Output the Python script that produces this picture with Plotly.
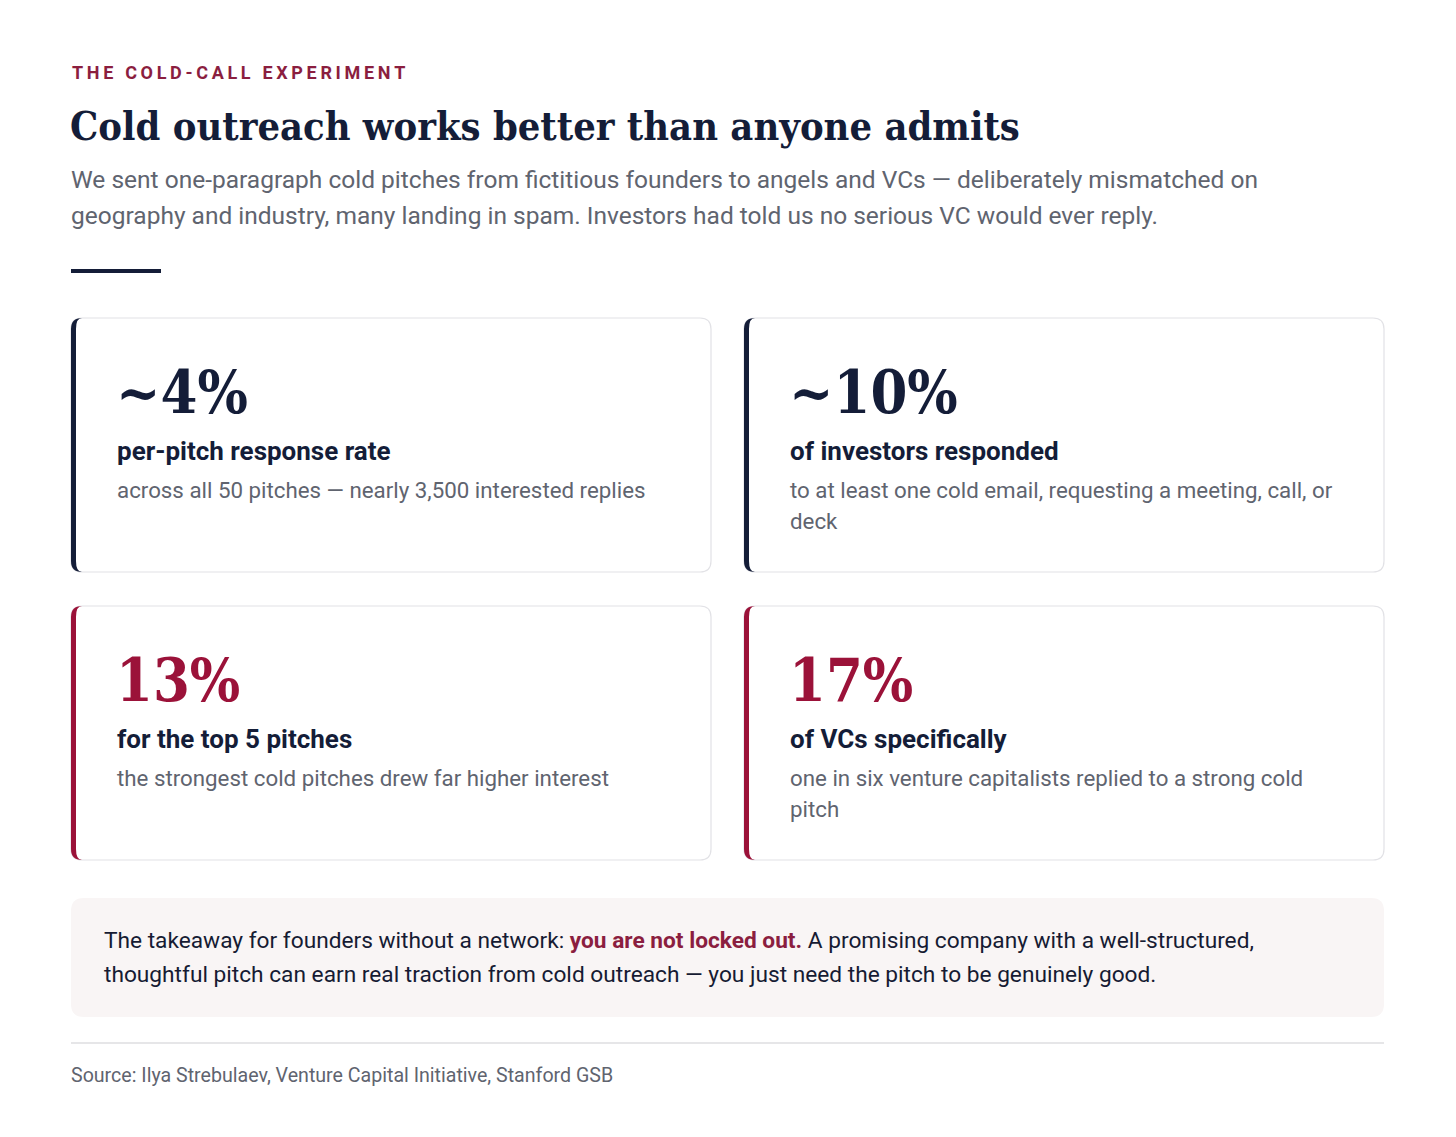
import plotly.graph_objects as go

W, H = 1456, 1137
PAGE_OFFSET = 8  # default body margin of the html page

NAVY = "#141d38"
CRIMSON = "#9b1239"
EYEBROW = "#8b1e3f"
GRAY = "#60646f"
BORDER = "#e2e2e6"

# Text content
eyebrow = "THE COLD-CALL EXPERIMENT"
title = "Cold outreach works better than anyone admits"
subtitle_lines = [
    "We sent one-paragraph cold pitches from fictitious founders to angels and VCs \u2014 deliberately mismatched on",
    "geography and industry, many landing in spam. Investors had told us no serious VC would ever reply.",
]

# Stat cards (row-major: top-left, top-right, bottom-left, bottom-right)
card_values = ["~4%", "~10%", "13%", "17%"]
card_labels = ["per-pitch response rate", "of investors responded",
               "for the top 5 pitches", "of VCs specifically"]
card_descs = [
    ["across all 50 pitches \u2014 nearly 3,500 interested replies"],
    ["to at least one cold email, requesting a meeting, call, or", "deck"],
    ["the strongest cold pitches drew far higher interest"],
    ["one in six venture capitalists replied to a strong cold", "pitch"],
]
card_accent = ["navy", "navy", "crimson", "crimson"]

takeaway_lines = [
    "The takeaway for founders without a network: <b><span style='color:#8b1e3f'>you are not locked out.</span></b>"
    " A promising company with a well-structured,",
    "thoughtful pitch can earn real traction from cold outreach \u2014 you just need the pitch to be genuinely good.",
]
source = "Source: Ilya Strebulaev, Venture Capital Initiative, Stanford GSB"

SERIF = "DejaVu Serif Condensed, DejaVu Serif, serif"
SANS = "Roboto, Noto Sans, sans-serif"


def rounded_path(x0, y0, x1, y1, r):
    return (f"M {x0+r},{y0} L {x1-r},{y0} Q {x1},{y0} {x1},{y0+r} "
            f"L {x1},{y1-r} Q {x1},{y1} {x1-r},{y1} L {x0+r},{y1} "
            f"Q {x0},{y1} {x0},{y1-r} L {x0},{y0+r} Q {x0},{y0} {x0+r},{y0} Z")


def accent_path(x0, y0, y1, r, w):
    return (f"M {x0+r},{y0} Q {x0},{y0} {x0},{y0+r} L {x0},{y1-r} "
            f"Q {x0},{y1} {x0+r},{y1} Q {x0+w},{y1} {x0+w},{y1-r} "
            f"L {x0+w},{y0+r} Q {x0+w},{y0} {x0+r},{y0} Z")


fig = go.Figure()
shapes = []
annotations = []


def text(x, y, s, size, color, family=SANS, weight="normal"):
    annotations.append(dict(
        x=x, y=y, xref="x", yref="y", text=s, showarrow=False,
        xanchor="left", yanchor="middle", align="left",
        font=dict(family=family, size=size, color=color, weight=weight),
    ))


# Header
text(70, 72, "\u2009".join(eyebrow), 18, EYEBROW, weight="bold")
text(68, 126, title, 39.5, NAVY, family=SERIF, weight="bold")
for i, line in enumerate(subtitle_lines):
    text(69, 179 + i * 36, line, 24.5, GRAY)
shapes.append(dict(type="line", x0=71, x1=161, y0=271, y1=271,
                   line=dict(color=NAVY, width=4)))

# Cards
card_w, card_h = 640, 254
gap = 34
left, top = 71, 318
for i, val in enumerate(card_values):
    col, row = i % 2, i // 2
    x0 = left + col * (card_w + gap - 1)
    y0 = top + row * (card_h + gap)
    x1, y1 = x0 + card_w, y0 + card_h
    color = NAVY if card_accent[i] == "navy" else CRIMSON
    shapes.append(dict(type="path", path=rounded_path(x0, y0, x1, y1, 11),
                       fillcolor="white", line=dict(color=BORDER, width=1.2)))
    shapes.append(dict(type="path", path=accent_path(x0, y0, y1, 11, 5),
                       fillcolor=color, line=dict(width=0)))
    tx = x0 + 44
    text(tx - 1, y0 + 74, val, 59, color, family=SERIF, weight="bold")
    text(tx, y0 + 133, card_labels[i], 26, NAVY, weight="bold")
    for j, d in enumerate(card_descs[i]):
        text(tx, y0 + 172 + j * 31, d, 22.3, GRAY)

# Takeaway box
shapes.append(dict(type="path", path=rounded_path(71, 898, 1384, 1017, 13),
                   fillcolor="#f9f5f5", line=dict(width=0)))
for i, line in enumerate(takeaway_lines):
    text(102, 940 + i * 34, line, 22.7, "#161b33")

# Footer
shapes.append(dict(type="line", x0=71, x1=1384, y0=1043, y1=1043,
                   line=dict(color="#e6e6e8", width=2)))
text(69, 1075, source, 19.6, GRAY)

fig.update_layout(
    width=W, height=H,
    margin=dict(l=0, r=0, t=0, b=0),
    paper_bgcolor="white", plot_bgcolor="white",
    xaxis=dict(range=[PAGE_OFFSET, W + PAGE_OFFSET], visible=False, fixedrange=True),
    yaxis=dict(range=[H + PAGE_OFFSET, PAGE_OFFSET], visible=False, fixedrange=True),
    shapes=shapes, annotations=annotations,
    showlegend=False,
)

fig.write_html("out.html", config={"displayModeBar": False})
